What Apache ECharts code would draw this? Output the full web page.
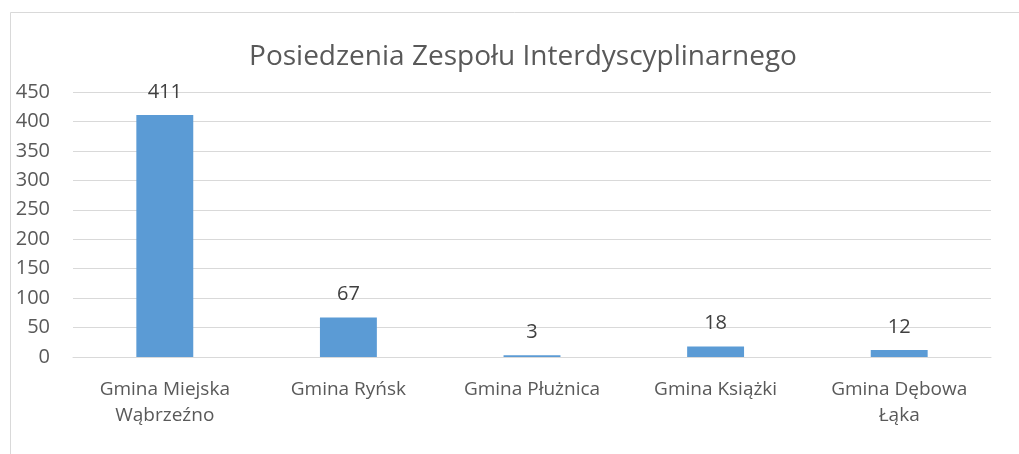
<!DOCTYPE html>
<html>
<head>
<meta charset="utf-8">
<script src="https://cdn.jsdelivr.net/npm/echarts@6/dist/echarts.min.js"></script>
<style>
  html, body { margin: 0; padding: 0; background: #ffffff; }
  #chart { width: 1019px; height: 454px; }
</style>
</head>
<body>
<div id="chart"></div>
<script>
// Meetings of the interdisciplinary team per municipality
const titleText = 'Posiedzenia Zespołu Interdyscyplinarnego';
const categories = ['Gmina Miejska\nWąbrzeźno', 'Gmina Ryńsk', 'Gmina Płużnica', 'Gmina Książki', 'Gmina Dębowa\nŁąka'];
const meetings = [411, 67, 3, 18, 12];
const yTicks = { min: 0, max: 450, step: 50 };

const FONT = 'Open Sans';
const chart = echarts.init(document.getElementById('chart'), null, { renderer: 'canvas' });

chart.setOption({
  animation: false,
  backgroundColor: '#ffffff',
  textStyle: { fontFamily: FONT },
  title: {
    text: titleText,
    left: 518,
    top: 38,
    textAlign: 'center',
    textStyle: { fontFamily: FONT, fontSize: 28, fontWeight: 'normal', color: '#595959' }
  },
  grid: { left: 73, right: 28, top: 92, bottom: 97, containLabel: false },
  xAxis: {
    type: 'category',
    data: categories,
    axisLine: { show: true, lineStyle: { color: '#d9d9d9', width: 1 } },
    axisTick: { show: false },
    axisLabel: {
      color: '#595959', fontFamily: FONT, fontSize: 19, lineHeight: 26,
      margin: 20, interval: 0
    }
  },
  yAxis: {
    type: 'value',
    min: yTicks.min,
    max: yTicks.max,
    interval: yTicks.step,
    axisLine: { show: false },
    axisTick: { show: false },
    splitLine: { lineStyle: { color: '#d9d9d9', width: 1 } },
    axisLabel: { color: '#595959', fontFamily: FONT, fontSize: 20, margin: 23 }
  },
  series: [{
    type: 'bar',
    data: meetings,
    barWidth: '31%',
    itemStyle: { color: '#5b9bd5' },
    label: {
      show: true, position: 'top', distance: 13,
      color: '#404040', fontFamily: FONT, fontSize: 20
    }
  }],
  graphic: [
    { type: 'line', shape: { x1: 10.5, y1: 12.5, x2: 1019, y2: 12.5 }, style: { stroke: '#d9d9d9', lineWidth: 1 } },
    { type: 'line', shape: { x1: 10.5, y1: 12.5, x2: 10.5, y2: 454 }, style: { stroke: '#d9d9d9', lineWidth: 1 } }
  ]
});
</script>
</body>
</html>
